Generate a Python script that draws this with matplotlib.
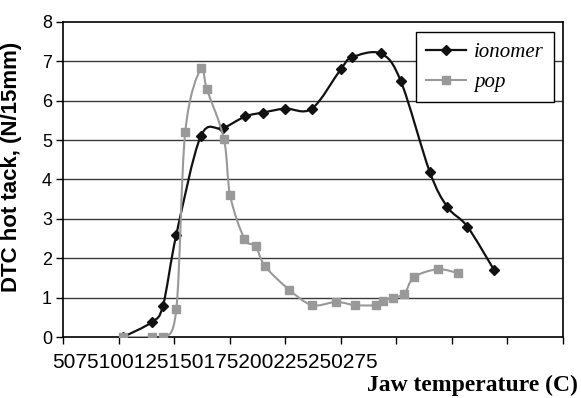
import numpy as np
import matplotlib
matplotlib.use("Agg")
import matplotlib.pyplot as plt
from matplotlib.path import Path
from matplotlib.patches import PathPatch
from matplotlib.lines import Line2D

# values
iono_x = [77, 90, 95, 101, 112, 122, 132, 140, 150, 162, 175, 180, 193, 202, 215, 223, 232, 244]
iono_y = [0, 0.38, 0.8, 2.6, 5.1, 5.3, 5.6, 5.7, 5.8, 5.8, 6.8, 7.1, 7.2, 6.5, 4.2, 3.3, 2.8, 1.7]

pop_x = [77, 90, 95, 101, 105, 112, 114.7, 122.4, 125.2, 131.6, 136.7, 140.9, 151.8,
         162.1, 172.9, 181.6, 190.9, 193.9, 198.4, 203.6, 208, 218.6, 227.9]
pop_y = [0, 0, 0, 0.71, 5.2, 6.82, 6.3, 5.03, 3.6, 2.5, 2.3, 1.8, 1.2,
         0.81, 0.89, 0.81, 0.81, 0.91, 1.0, 1.1, 1.52, 1.72, 1.62]

x_ticks = [50, 75, 100, 125, 150, 175, 200, 225, 250, 275]
y_ticks = [0, 1, 2, 3, 4, 5, 6, 7, 8]

IONO_C = "#111111"
POP_C = "#999999"


def smooth_path(ax, xs, ys):
    # excel style smoothed line, control points worked out in pixel space
    pts = ax.transData.transform(np.column_stack([xs, ys]))
    n = len(pts)
    verts = [pts[0]]
    codes = [Path.MOVETO]
    for i in range(n - 1):
        p0 = pts[i - 1] if i > 0 else pts[i]
        p1 = pts[i]
        p2 = pts[i + 1]
        p3 = pts[i + 2] if i + 2 < n else pts[i + 1]
        c1 = p1 + (p2 - p0) / 6.0
        c2 = p2 - (p3 - p1) / 6.0
        verts += [c1, c2, p2]
        codes += [Path.CURVE4] * 3
    verts = ax.transData.inverted().transform(np.array(verts))
    return Path(verts, codes)


fig = plt.figure(figsize=(5.81, 3.98), dpi=100)
ax = fig.add_axes([63 / 581, 61 / 398, 500 / 581, 315 / 398])

ax.set_xlim(50, 275)
ax.set_ylim(0, 8)
ax.set_xticks(x_ticks)
ax.set_xticklabels([""] * len(x_ticks))
ax.set_yticks(y_ticks)
ax.set_yticklabels([str(v) for v in y_ticks], fontsize=13, family="Liberation Sans")
ax.tick_params(axis="both", direction="out", length=5, width=1, color="black")
ax.tick_params(axis="y", pad=3)

for v in y_ticks[1:-1]:
    ax.axhline(v, color="#3a3a3a", lw=1, zorder=1)
for s in ax.spines.values():
    s.set_color("black")
    s.set_linewidth(1.2)

# ionomer first, pop squares sit on top of it
ax.add_patch(PathPatch(smooth_path(ax, iono_x, iono_y), facecolor="none",
                       edgecolor=IONO_C, lw=1.6, zorder=3))
ax.plot(iono_x, iono_y, ls="none", marker="D", ms=5.5, color=IONO_C, zorder=4)
ax.add_patch(PathPatch(smooth_path(ax, pop_x, pop_y), facecolor="none",
                       edgecolor=POP_C, lw=1.5, zorder=5))
ax.plot(pop_x, pop_y, ls="none", marker="s", ms=5.5, color=POP_C, zorder=6)

handles = [Line2D([], [], color=IONO_C, lw=1.6, marker="D", ms=5.5),
           Line2D([], [], color=POP_C, lw=1.5, marker="s", ms=5.5)]
leg = ax.legend(handles, ["ionomer", "pop"], loc="upper right",
                bbox_to_anchor=(491 / 500, 305 / 315), fancybox=False,
                edgecolor="black", framealpha=1, borderaxespad=0,
                handlelength=1.9, handletextpad=0.4, labelspacing=0.5,
                borderpad=0.5,
                prop={"family": "Liberation Serif", "style": "italic", "size": 15})
leg.get_frame().set_linewidth(1)

ax.set_ylabel("DTC hot tack, (N/15mm)", fontsize=16, fontweight="bold",
              family="Liberation Sans")
ax.yaxis.set_label_coords(-41 / 500, 170 / 315)

fig.text(52 / 581, 1 - 363 / 398, "".join(str(v) for v in x_ticks),
         ha="left", va="center", fontsize=15, family="Liberation Sans")
fig.text(578 / 581, 1 - 385 / 398, "Jaw temperature (C)", ha="right",
         va="center", fontsize=17, fontweight="bold", family="Liberation Serif")

fig.savefig("out.png", dpi=100)
